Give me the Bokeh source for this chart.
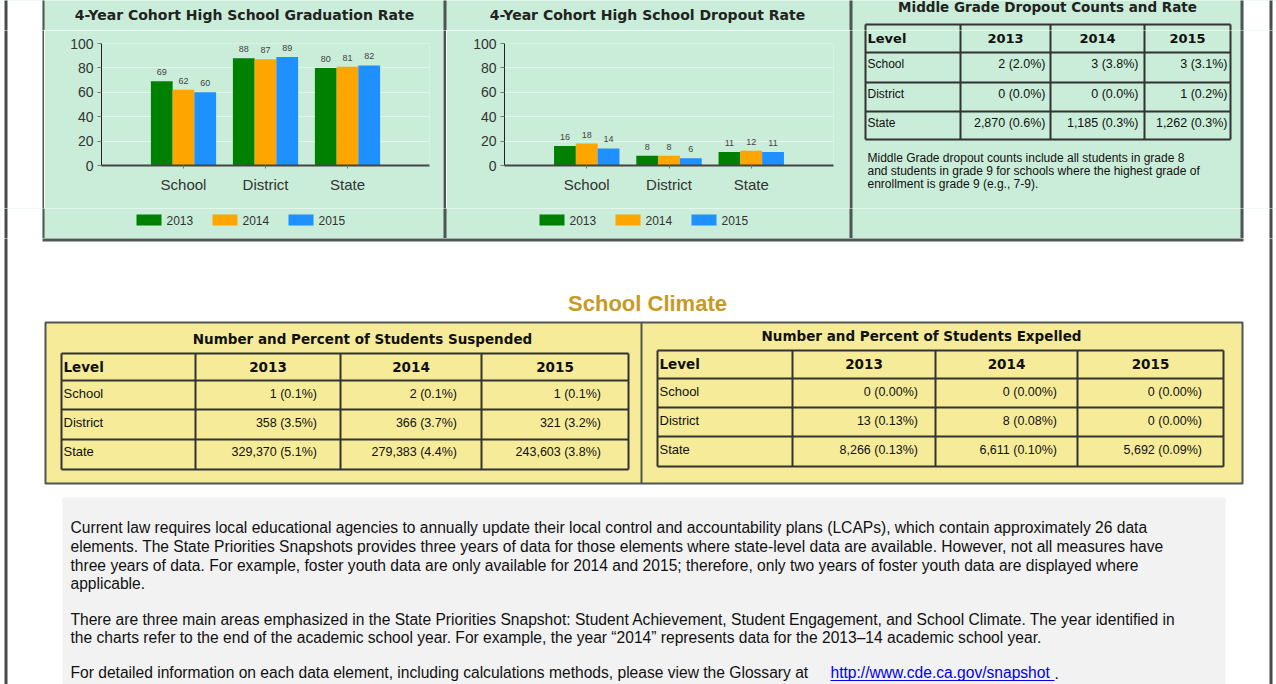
from bokeh.plotting import figure
from bokeh.models import Range1d, FactorRange, ColumnDataSource, LabelSet, FixedTicker
from bokeh.layouts import row, column
from bokeh.transform import dodge
from bokeh.core.properties import value
from bokeh.embed import file_html
from bokeh.resources import INLINE

# ---------------- data ----------------
categories = ["School", "District", "State"]
years = ["2013", "2014", "2015"]
y_ticks = [0, 20, 40, 60, 80, 100]

grad_2013 = [69, 88, 80]
grad_2014 = [62, 87, 81]
grad_2015 = [60, 89, 82]

drop_2013 = [16, 8, 11]
drop_2014 = [18, 8, 12]
drop_2015 = [14, 6, 11]

levels = ["School", "District", "State"]
mg_2013 = ["2 (2.0%)", "0 (0.0%)", "2,870 (0.6%)"]
mg_2014 = ["3 (3.8%)", "0 (0.0%)", "1,185 (0.3%)"]
mg_2015 = ["3 (3.1%)", "1 (0.2%)", "1,262 (0.3%)"]

susp_2013 = ["1  (0.1%)", "358  (3.5%)", "329,370  (5.1%)"]
susp_2014 = ["2  (0.1%)", "366  (3.7%)", "279,383  (4.4%)"]
susp_2015 = ["1  (0.1%)", "321  (3.2%)", "243,603  (3.8%)"]

exp_2013 = ["0  (0.00%)", "13  (0.13%)", "8,266  (0.13%)"]
exp_2014 = ["0  (0.00%)", "8  (0.08%)", "6,611  (0.10%)"]
exp_2015 = ["0  (0.00%)", "0  (0.00%)", "5,692  (0.09%)"]

mg_note = ["Middle Grade dropout counts include all students in grade 8",
           "and students in grade 9 for schools where the highest grade of",
           "enrollment is grade 9 (e.g., 7-9)."]

notes = [
    "Current law requires local educational agencies to annually update their local control and accountability plans (LCAPs), which contain approximately 26 data",
    "elements. The State Priorities Snapshots provides three years of data for those elements where state-level data are available. However, not all measures have",
    "three years of data. For example, foster youth data are only available for 2014 and 2015; therefore, only two years of foster youth data are displayed where",
    "applicable.",
    "There are three main areas emphasized in the State Priorities Snapshot: Student Achievement, Student Engagement, and School Climate. The year identified in",
    "the charts refer to the end of the academic school year. For example, the year \u201c2014\u201d represents data for the 2013\u201314 academic school year.",
]
last_note = "For detailed information on each data element, including calculations methods, please view the Glossary at "
link_text = "http://www.cde.ca.gov/snapshot"

# ---------------- style ----------------
GREEN = "#c9edd8"
YELLOW = "#f5eb98"
GRAY = "#f2f2f2"
DARK = "#4f5552"
EDGE = "#4a4a4a"
LINE = "#333333"
BAR_COLORS = ["#008000", "#ffa500", "#1e90ff"]
SANS = value("Liberation Sans")
DJ = value("DejaVu Sans")

MG_COLS = [865, 960, 1050, 1144, 1230]
MG_ROWS = [24, 52, 82, 111, 139]


def canvas(x0, x1, y0, y1, bg="white"):
    f = figure(width=int(x1 - x0), height=int(y1 - y0),
               x_range=Range1d(x0, x1), y_range=Range1d(y1, y0),
               output_backend="svg", toolbar_location=None, min_border=0,
               x_axis_location=None, y_axis_location=None,
               background_fill_color=bg, border_fill_color=bg)
    f.outline_line_color = None
    f.grid.visible = False
    return f


def box(f, l, r, t, b, color, **kw):
    f.quad(left=[l], right=[r], top=[t], bottom=[b], fill_color=color, line_color=None, **kw)


def txt(f, xs, ys, texts, size, font=SANS, bold=False, align="left", color="#111111"):
    f.text(x=xs, y=ys, text=texts, text_font=font, text_font_size=size,
           text_font_style="bold" if bold else "normal", text_align=align,
           text_baseline="middle", text_color=color)


def grid_lines(f, cols, rows, width=2):
    xs, ys = [], []
    for y in rows:
        xs.append([cols[0], cols[-1]]); ys.append([y, y])
    for x in cols:
        xs.append([x, x]); ys.append([rows[0], rows[-1]])
    f.multi_line(xs, ys, line_color=LINE, line_width=width)


def draw_table(f, cols, rows, head_y, row_ys, c13, c14, c15, val_right,
               head_size, lab_size, val_size):
    grid_lines(f, cols, rows)
    txt(f, [cols[0] + 2], [head_y], ["Level"], head_size, font=DJ, bold=True)
    heads_x = [(cols[i] + cols[i + 1]) / 2 for i in range(1, 4)]
    txt(f, heads_x, [head_y] * 3, years, head_size, font=DJ, bold=True, align="center")
    txt(f, [cols[0] + 2] * 3, row_ys, levels, lab_size)
    for xr, col in zip(val_right, (c13, c14, c15)):
        txt(f, [xr] * 3, row_ys, col, val_size, align="right")


def panel_frame(f, y0, y1):
    """white page margins, dividers and page edges over a green band"""
    y0, y1 = y0 - 3, y1 + 3          # overshoot the band so no seam shows
    box(f, -3, 42, y0, y1, "white")
    box(f, 1243, 1280, y0, y1, "white")
    box(f, 4, 7, y0, y1, EDGE)
    box(f, 42, 44, y0, y1, DARK)
    box(f, 443, 446, y0, y1, DARK)
    box(f, 849, 852, y0, y1, DARK)
    box(f, 1240, 1243, y0, y1, DARK)
    box(f, 1269, 1272, y0, y1, EDGE)


def bar_chart(s13, s14, s15, x0, x1, frame_l, frame_r):
    w = x1 - x0
    src = ColumnDataSource(dict(cat=categories, y13=s13, y14=s14, y15=s15,
                                l13=[str(v) for v in s13], l14=[str(v) for v in s14],
                                l15=[str(v) for v in s15]))
    p = figure(width=w, height=178,
               x_range=FactorRange(factors=categories, range_padding=0.5,
                                   range_padding_units="absolute"),
               y_range=Range1d(0, 100), output_backend="svg", toolbar_location=None,
               min_border_left=frame_l - x0, min_border_right=x1 - frame_r,
               min_border_top=13, min_border_bottom=43,
               background_fill_color=GREEN, border_fill_color=GREEN)
    p.outline_line_color = None
    offs = [-0.265, 0.0, 0.265]
    for off, key, lab, c in zip(offs, ["y13", "y14", "y15"], ["l13", "l14", "l15"], BAR_COLORS):
        p.vbar(x=dodge("cat", off, range=p.x_range), top=key, width=0.265, source=src,
               fill_color=c, line_color=None)
        p.add_layout(LabelSet(x=dodge("cat", off, range=p.x_range), y=key, text=lab,
                              source=src, y_offset=6, text_align="center",
                              text_baseline="bottom", text_font=SANS,
                              text_font_size="9px", text_color="#444444"))
    p.yaxis.ticker = FixedTicker(ticks=y_ticks)
    p.yaxis.major_label_text_font = "Liberation Sans"
    p.yaxis.major_label_text_font_size = "14px"
    p.yaxis.major_label_text_color = "#333333"
    p.yaxis.axis_line_color = "#222222"
    p.yaxis.major_tick_out = 4
    p.yaxis.major_tick_in = 0
    p.yaxis.major_tick_line_color = "#777777"
    p.yaxis.minor_tick_line_color = None
    p.yaxis.major_label_standoff = 4
    p.xaxis.axis_line_color = "#444444"
    p.xaxis.axis_line_width = 2
    p.xaxis.major_tick_out = 3
    p.xaxis.major_tick_in = 0
    p.xaxis.major_tick_line_color = "#777777"
    p.xaxis.major_label_text_font = "Liberation Sans"
    p.xaxis.major_label_text_font_size = "15px"
    p.xaxis.major_label_text_color = "#333333"
    p.xaxis.major_label_standoff = 7
    p.xgrid.grid_line_color = None
    p.ygrid.grid_line_color = "#e3f5eb"
    p.ygrid.ticker = FixedTicker(ticks=y_ticks)
    return column(p, spacing=0)


# ---------------- band A: titles (y 0..30) ----------------
bandA = canvas(0, 1276, 0, 30, GREEN)
panel_frame(bandA, 0, 30)
txt(bandA, [244], [14], ["4-Year Cohort High School Graduation Rate"], "14px", font=DJ,
    bold=True, align="center", color="#222222")
txt(bandA, [647], [14], ["4-Year Cohort High School Dropout Rate"], "14px", font=DJ,
    bold=True, align="center", color="#222222")
txt(bandA, [1047], [6], ["Middle Grade Dropout Counts and Rate"], "13.5px", font=DJ,
    bold=True, align="center", color="#222222")
grid_lines(bandA, MG_COLS, MG_ROWS)

# ---------------- band B: charts and middle-grade table (y 30..208) ----------------
figL = canvas(0, 44, 30, 208)
box(figL, 4, 7, 27, 211, EDGE)
box(figL, 42, 46, 27, 211, DARK)

grad = bar_chart(grad_2013, grad_2014, grad_2015, 44, 443, 101, 429)
mid = canvas(443, 446, 30, 208, DARK)
drop = bar_chart(drop_2013, drop_2014, drop_2015, 446, 849, 504, 833)

figR = canvas(849, 1276, 30, 208, GREEN)
panel_frame(figR, 30, 208)
draw_table(figR, MG_COLS, MG_ROWS, 38, [63, 93, 122],
           mg_2013, mg_2014, mg_2015, [1045, 1138, 1227], "13px", "12px", "12.5px")
txt(figR, [867] * 3, [157, 170, 183], mg_note, "12px")

bandB = row(figL, grad, mid, drop, figR, spacing=0)

# ---------------- band C: legends (y 208..238) ----------------
bandC = canvas(0, 1276, 208, 238, GREEN)
panel_frame(bandC, 208, 238)
for legend_x in (136, 539):
    for i, (yr, c) in enumerate(zip(years, BAR_COLORS)):
        lx = legend_x + i * 76
        box(bandC, lx, lx + 25, 214, 225, c)
        txt(bandC, [lx + 30], [219.5], [yr], "12px", color="#333333")

# ---------------- bottom area ----------------
figB = canvas(0, 1276, 238, 684)
box(figB, 42, 1243, 235, 241, DARK)
box(figB, 4, 7, 235, 687, EDGE)
box(figB, 1269, 1272, 235, 687, EDGE)

txt(figB, [647], [303], ["School Climate"], "22px", bold=True, align="center", color="#c79a26")

figB.quad(left=[45], right=[1242], top=[322], bottom=[483], fill_color=YELLOW,
          line_color=DARK, line_width=2)
figB.segment(x0=[641], y0=[322], x1=[641], y1=[483], line_color=DARK, line_width=2)

txt(figB, [362], [338], ["Number and Percent of Students Suspended"], "13.5px", font=DJ,
    bold=True, align="center")
draw_table(figB, [61, 195, 340, 481, 628], [353, 380, 409, 439, 469], 366, [393, 422, 451],
           susp_2013, susp_2014, susp_2015, [320, 460, 604], "13.5px", "13px", "12.5px")

txt(figB, [921], [335], ["Number and Percent of Students Expelled"], "13.5px", font=DJ,
    bold=True, align="center")
draw_table(figB, [657, 792, 935, 1077, 1223], [350, 378, 407, 436, 466], 363, [391, 420, 449],
           exp_2013, exp_2014, exp_2015, [921, 1060, 1205], "13.5px", "13px", "12.5px")

box(figB, 62, 1225, 497, 687, GRAY)
txt(figB, [70] * 6, [527, 546, 565, 583, 619, 637], notes, "15.6px")
txt(figB, [70], [672], [last_note], "15.6px")
txt(figB, [830], [672], [link_text], "15.6px", color="#0000ee")
figB.segment(x0=[830], y0=[680], x1=[1054], y1=[680], line_color="#0000ee", line_width=1)
txt(figB, [1054], [672], ["."], "15.6px")

root = column(bandA, bandB, bandC, figB, spacing=0)

open("out.html", "w").write(file_html(root, INLINE))
